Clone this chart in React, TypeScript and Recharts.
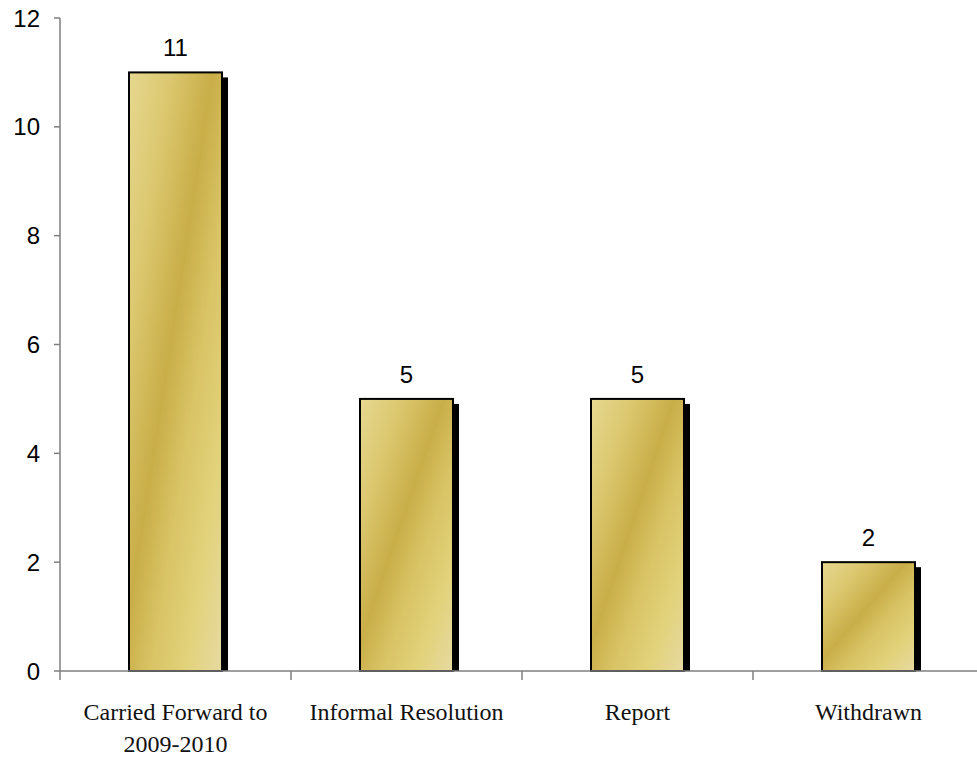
import React from 'react';
import { BarChart, Bar, XAxis, YAxis, LabelList } from 'recharts';

const categories = ['Carried Forward to 2009-2010', 'Informal Resolution', 'Report', 'Withdrawn'];
const counts = [11, 5, 5, 2];
const yTicks = [0, 2, 4, 6, 8, 10, 12];

const data = categories.map((name, i) => ({ name, value: counts[i] }));

const BAND = 231;
const MAX_CHARS = 20;

// greedy word wrap by character count
const wrap = (label: string) => {
  const lines: string[] = [];
  let cur = '';
  label.split(' ').forEach((w) => {
    const next = cur ? cur + ' ' + w : w;
    if (next.length > MAX_CHARS && cur) {
      lines.push(cur);
      cur = w;
    } else {
      cur = next;
    }
  });
  if (cur) lines.push(cur);
  return lines;
};

const GoldBar = (props: any) => {
  const { x, y, width, height } = props;
  if (!height) return null;
  return (
    <g>
      <rect x={x + 6} y={y + 5} width={width} height={height - 5} fill="#000" />
      <rect x={x} y={y} width={width} height={height} fill="url(#gold)" stroke="#000" strokeWidth={2} />
    </g>
  );
};

const CategoryTick = (props: any) => {
  const { x, y, payload } = props;
  const left = x - BAND / 2;
  const lines = wrap(String(payload.value));
  return (
    <g>
      <line x1={left} y1={y - 8} x2={left} y2={y + 1} stroke="#7f7f7f" strokeWidth={1.5} />
      <text
        x={x}
        y={y + 41}
        textAnchor="middle"
        fontFamily="'Liberation Serif', serif"
        fontSize={24}
        fill="#111"
      >
        {lines.map((l, i) => (
          <tspan key={i} x={x} dy={i === 0 ? 0 : 32}>
            {l}
          </tspan>
        ))}
      </text>
    </g>
  );
};

export default function App() {
  return (
    <div style={{ position: 'absolute', left: 0, top: 0, width: 977, height: 757, overflow: 'hidden', background: '#fff' }}>
      <BarChart width={990} height={757} data={data} margin={{ top: 18, right: 6, bottom: 0, left: 0 }} barSize={93}>
        <defs>
          <linearGradient id="gold" x1="0" y1="0" x2="1" y2="1">
            <stop offset="0%" stopColor="#e6d890" />
            <stop offset="22%" stopColor="#dcc870" />
            <stop offset="45%" stopColor="#c9ae48" />
            <stop offset="62%" stopColor="#d9c466" />
            <stop offset="80%" stopColor="#e2d27a" />
            <stop offset="100%" stopColor="#e6daa2" />
          </linearGradient>
        </defs>
        <XAxis
          dataKey="name"
          height={86}
          interval={0}
          axisLine={{ stroke: '#7f7f7f', strokeWidth: 1.5 }}
          tickLine={false}
          tick={<CategoryTick />}
        />
        <YAxis
          width={60}
          domain={[0, 12]}
          ticks={yTicks}
          interval={0}
          axisLine={{ stroke: '#7f7f7f', strokeWidth: 1.5 }}
          tickLine={{ stroke: '#7f7f7f', strokeWidth: 1.5 }}
          tickSize={6}
          tickMargin={14}
          tick={{ fill: '#000', fontSize: 24, fontFamily: "'Liberation Sans', Arial, sans-serif" }}
        />
        <Bar dataKey="value" shape={<GoldBar />} isAnimationActive={false}>
          <LabelList
            dataKey="value"
            position="top"
            offset={16}
            fill="#000"
            fontSize={24}
            fontFamily="'Liberation Sans', Arial, sans-serif"
          />
        </Bar>
      </BarChart>
    </div>
  );
}
